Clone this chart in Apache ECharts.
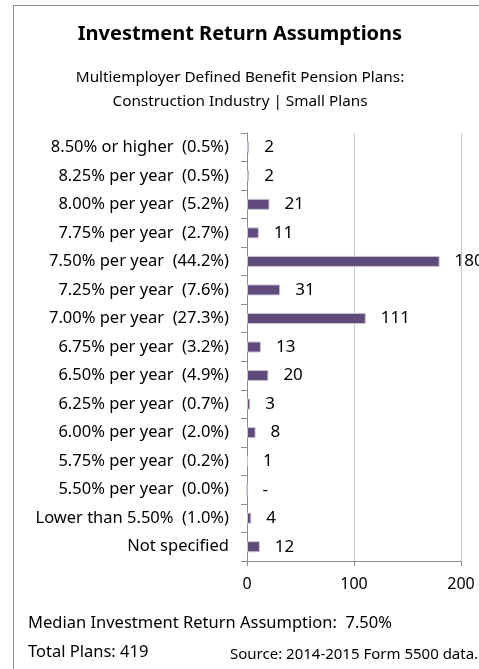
<!DOCTYPE html>
<html>
<head>
<meta charset="utf-8">
<style>
  html, body { margin: 0; padding: 0; background: #fff; }
  #chart { width: 479px; height: 669px; }
</style>
<script src="https://cdn.jsdelivr.net/npm/echarts@6/dist/echarts.min.js"></script>
</head>
<body>
<div id="chart"></div>
<script>
var categories = [
  '8.50% or higher  (0.5%)',
  '8.25% per year  (0.5%)',
  '8.00% per year  (5.2%)',
  '7.75% per year  (2.7%)',
  '7.50% per year  (44.2%)',
  '7.25% per year  (7.6%)',
  '7.00% per year  (27.3%)',
  '6.75% per year  (3.2%)',
  '6.50% per year  (4.9%)',
  '6.25% per year  (0.7%)',
  '6.00% per year  (2.0%)',
  '5.75% per year  (0.2%)',
  '5.50% per year  (0.0%)',
  'Lower than 5.50%  (1.0%)',
  'Not specified'
];
var planCounts = [2, 2, 21, 11, 180, 31, 111, 13, 20, 3, 8, 1, 0, 4, 12];
var titleText = 'Investment Return Assumptions';
var subtitleLine1 = 'Multiemployer Defined Benefit Pension Plans:';
var subtitleLine2 = 'Construction Industry | Small Plans';
var medianText = 'Median Investment Return Assumption:  7.50%';
var totalText = 'Total Plans: 419';
var sourceText = 'Source: 2014-2015 Form 5500 data.';

var FONT = 'Noto Sans';
var chart = echarts.init(document.getElementById('chart'), null, { renderer: 'canvas' });
function txt(x, y, s, font, align) {
  return { type: 'text', style: { x: x, y: y, text: s, font: font, fill: '#000', align: align || 'left', verticalAlign: 'middle' } };
}
chart.setOption({
  animation: false,
  backgroundColor: '#fff',
  textStyle: { fontFamily: FONT },
  graphic: [
    { type: 'rect', shape: { x: 13.5, y: 5.5, width: 500, height: 700 }, style: { fill: 'none', stroke: '#8c8c8c', lineWidth: 1 }, z: 0 },
    txt(240, 34, titleText, 'bold 20px "Noto Sans"', 'center'),
    txt(240, 78, subtitleLine1, '15.3px "Noto Sans"', 'center'),
    txt(240, 102, subtitleLine2, '15.3px "Noto Sans"', 'center'),
    txt(28, 623, medianText, '16.5px "Noto Sans"'),
    txt(28, 652, totalText, '16.5px "Noto Sans"'),
    txt(230, 655, sourceText, '15px "Noto Sans"')
  ],
  grid: { left: 247, top: 133, width: 214, height: 428, containLabel: false },
  xAxis: {
    type: 'value', min: 0, max: 200, interval: 100,
    axisLine: { show: true, lineStyle: { color: '#8c8c8c' } },
    axisTick: { show: true, length: 5, lineStyle: { color: '#8c8c8c' } },
    axisLabel: { color: '#000', fontSize: 16, margin: 15, fontFamily: FONT },
    splitLine: { show: true, lineStyle: { color: '#c8c8c8' } }
  },
  yAxis: {
    type: 'category', data: categories, inverse: true,
    axisLine: { show: true, lineStyle: { color: '#8c8c8c' } },
    axisTick: { show: true, length: 6, alignWithLabel: false, lineStyle: { color: '#8c8c8c' } },
    axisLabel: { color: '#000', fontSize: 16.5, margin: 18, fontFamily: FONT }
  },
  series: [{
    type: 'bar',
    data: planCounts,
    barWidth: 11,
    itemStyle: { color: '#604A7B', borderColor: '#c9c2d2', borderWidth: 1 },
    label: {
      show: true, position: 'right', distance: 15, color: '#000', fontSize: 17, fontFamily: FONT,
      formatter: function (p) { return p.value === 0 ? '-' : String(p.value); }
    }
  }]
});
</script>
</body>
</html>
